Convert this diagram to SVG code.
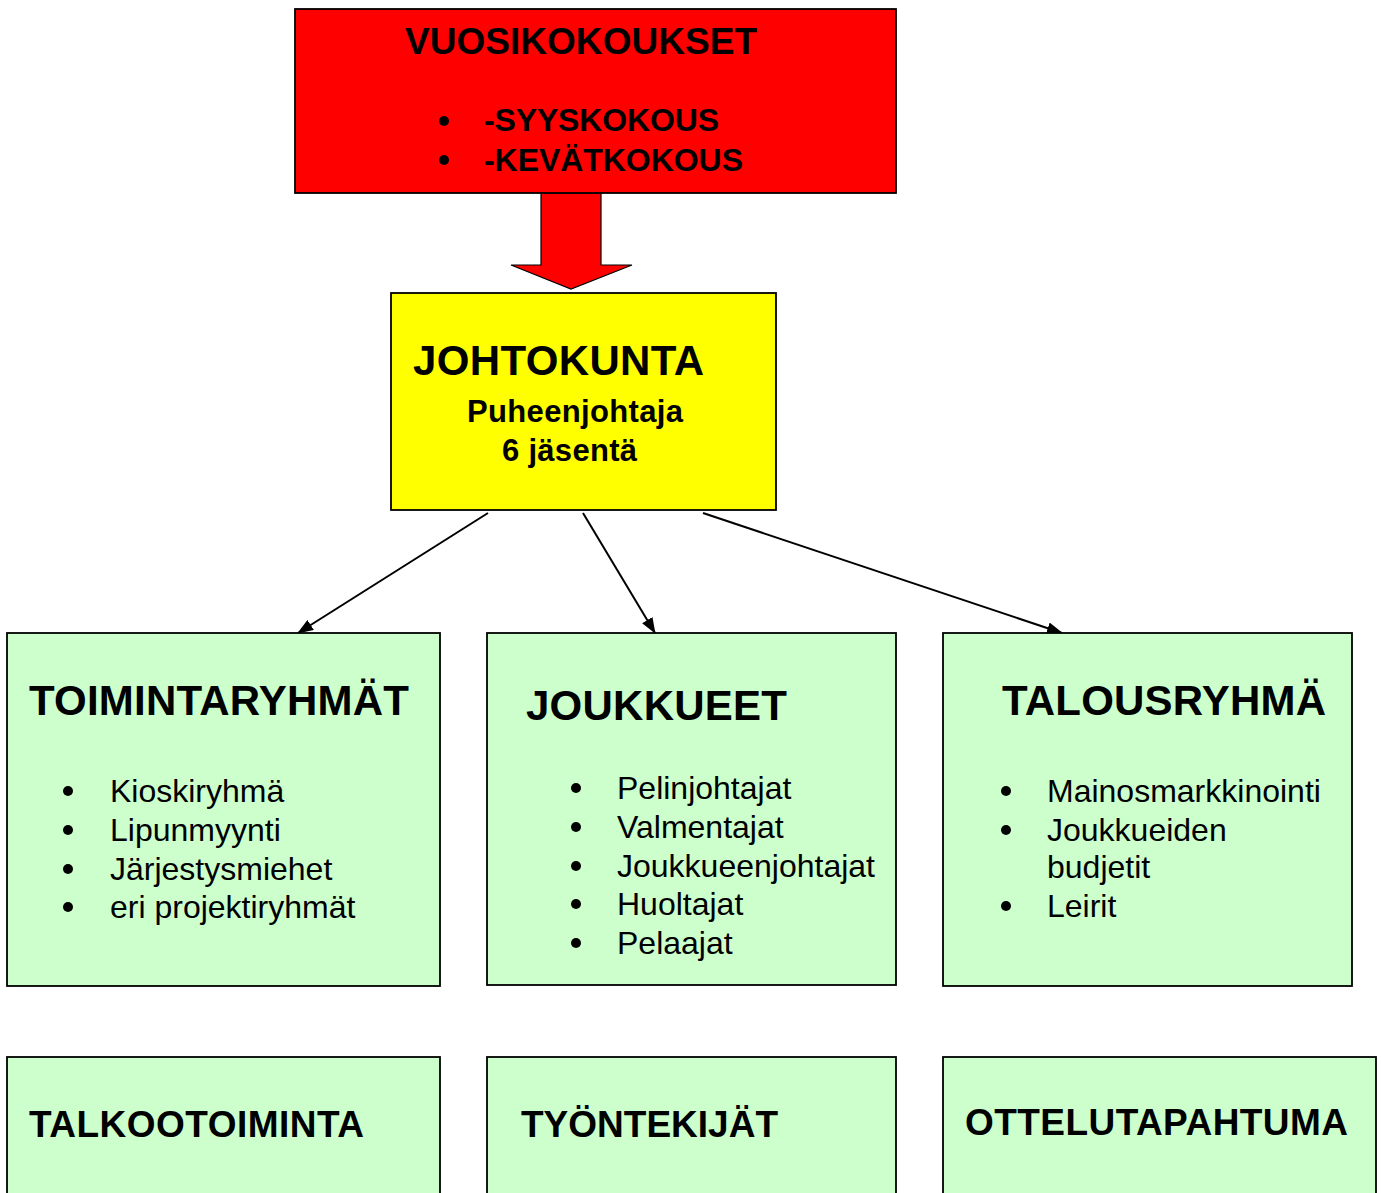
<svg xmlns="http://www.w3.org/2000/svg" width="1381" height="1193" viewBox="0 0 1381 1193">
<style>
.box{stroke:#000;stroke-width:1.8}
.g{fill:#CCFFCC}
.t{font-family:"Liberation Sans",Arial,sans-serif;fill:#000}
.b{font-weight:bold}
.h{font-size:42px;font-weight:bold}
.li{font-size:32px}
.conn{stroke:#000;stroke-width:2;fill:none;marker-end:url(#ah)}
</style>
<defs>
<marker id="ah" viewBox="0 0 16 12" refX="15" refY="6" markerWidth="16" markerHeight="12" markerUnits="userSpaceOnUse" orient="auto">
<path d="M0,0 L16,6 L0,12 Z" fill="#000"/>
</marker>
</defs>
<rect width="1381" height="1193" fill="#fff"/>
<g id="connectors">
<polygon points="541,193 601,193 601,265 632,265 571,289 511,265 541,265" fill="#FF0000" stroke="#000" stroke-width="1.2"/>
<line class="conn" x1="488" y1="513" x2="298" y2="633"/>
<line class="conn" x1="583" y1="513" x2="655" y2="633"/>
<line class="conn" x1="703" y1="513" x2="1062" y2="633"/>
</g>
<g id="vuosikokoukset">
<rect class="box" x="295" y="9" width="601" height="184" fill="#FF0000"/>
<text class="t b" x="405" y="54" font-size="37" textLength="352">VUOSIKOKOUKSET</text>
<circle cx="444" cy="121" r="5"/>
<circle cx="444" cy="160" r="5"/>
<text class="t b" x="484" y="131" font-size="32" textLength="235">-SYYSKOKOUS</text>
<text class="t b" x="484" y="171" font-size="32" textLength="259">-KEVÄTKOKOUS</text>
</g>
<g id="johtokunta">
<rect class="box" x="391" y="293" width="385" height="217" fill="#FFFF00"/>
<text class="t h" x="413" y="375" textLength="291">JOHTOKUNTA</text>
<text class="t b" x="467" y="422" font-size="31" textLength="216">Puheenjohtaja</text>
<text class="t b" x="502" y="461" font-size="31" textLength="135">6 jäsentä</text>
</g>
<g id="toimintaryhmat">
<rect class="box g" x="7" y="633" width="433" height="353"/>
<text class="t h" x="29" y="715" textLength="380">TOIMINTARYHMÄT</text>
<circle cx="68" cy="791" r="5"/><text class="t li" x="110" y="802">Kioskiryhmä</text>
<circle cx="68" cy="830" r="5"/><text class="t li" x="110" y="841">Lipunmyynti</text>
<circle cx="68" cy="869" r="5"/><text class="t li" x="110" y="880">Järjestysmiehet</text>
<circle cx="68" cy="907" r="5"/><text class="t li" x="110" y="918">eri projektiryhmät</text>
</g>
<g id="joukkueet">
<rect class="box g" x="487" y="633" width="409" height="352"/>
<text class="t h" x="526" y="720" textLength="261">JOUKKUEET</text>
<circle cx="576" cy="788" r="5"/><text class="t li" x="617" y="799">Pelinjohtajat</text>
<circle cx="576" cy="827" r="5"/><text class="t li" x="617" y="838">Valmentajat</text>
<circle cx="576" cy="866" r="5"/><text class="t li" x="617" y="877">Joukkueenjohtajat</text>
<circle cx="576" cy="904" r="5"/><text class="t li" x="617" y="915">Huoltajat</text>
<circle cx="576" cy="943" r="5"/><text class="t li" x="617" y="954">Pelaajat</text>
</g>
<g id="talousryhma">
<rect class="box g" x="943" y="633" width="409" height="353"/>
<text class="t h" x="1002" y="715" textLength="324">TALOUSRYHMÄ</text>
<circle cx="1006" cy="791" r="5"/><text class="t li" x="1047" y="802">Mainosmarkkinointi</text>
<circle cx="1006" cy="830" r="5"/><text class="t li" x="1047" y="841">Joukkueiden</text>
<text class="t li" x="1047" y="878">budjetit</text>
<circle cx="1006" cy="906" r="5"/><text class="t li" x="1047" y="917">Leirit</text>
</g>
<g id="talkootoiminta">
<rect class="box g" x="7" y="1057" width="433" height="160"/>
<text class="t b" x="29" y="1137" font-size="37" textLength="335">TALKOOTOIMINTA</text>
</g>
<g id="tyontekijat">
<rect class="box g" x="487" y="1057" width="409" height="160"/>
<text class="t b" x="521" y="1137" font-size="37" textLength="257">TYÖNTEKIJÄT</text>
</g>
<g id="ottelutapahtuma">
<rect class="box g" x="943" y="1057" width="433" height="160"/>
<text class="t b" x="965" y="1135" font-size="37" textLength="383">OTTELUTAPAHTUMA</text>
</g>
</svg>
